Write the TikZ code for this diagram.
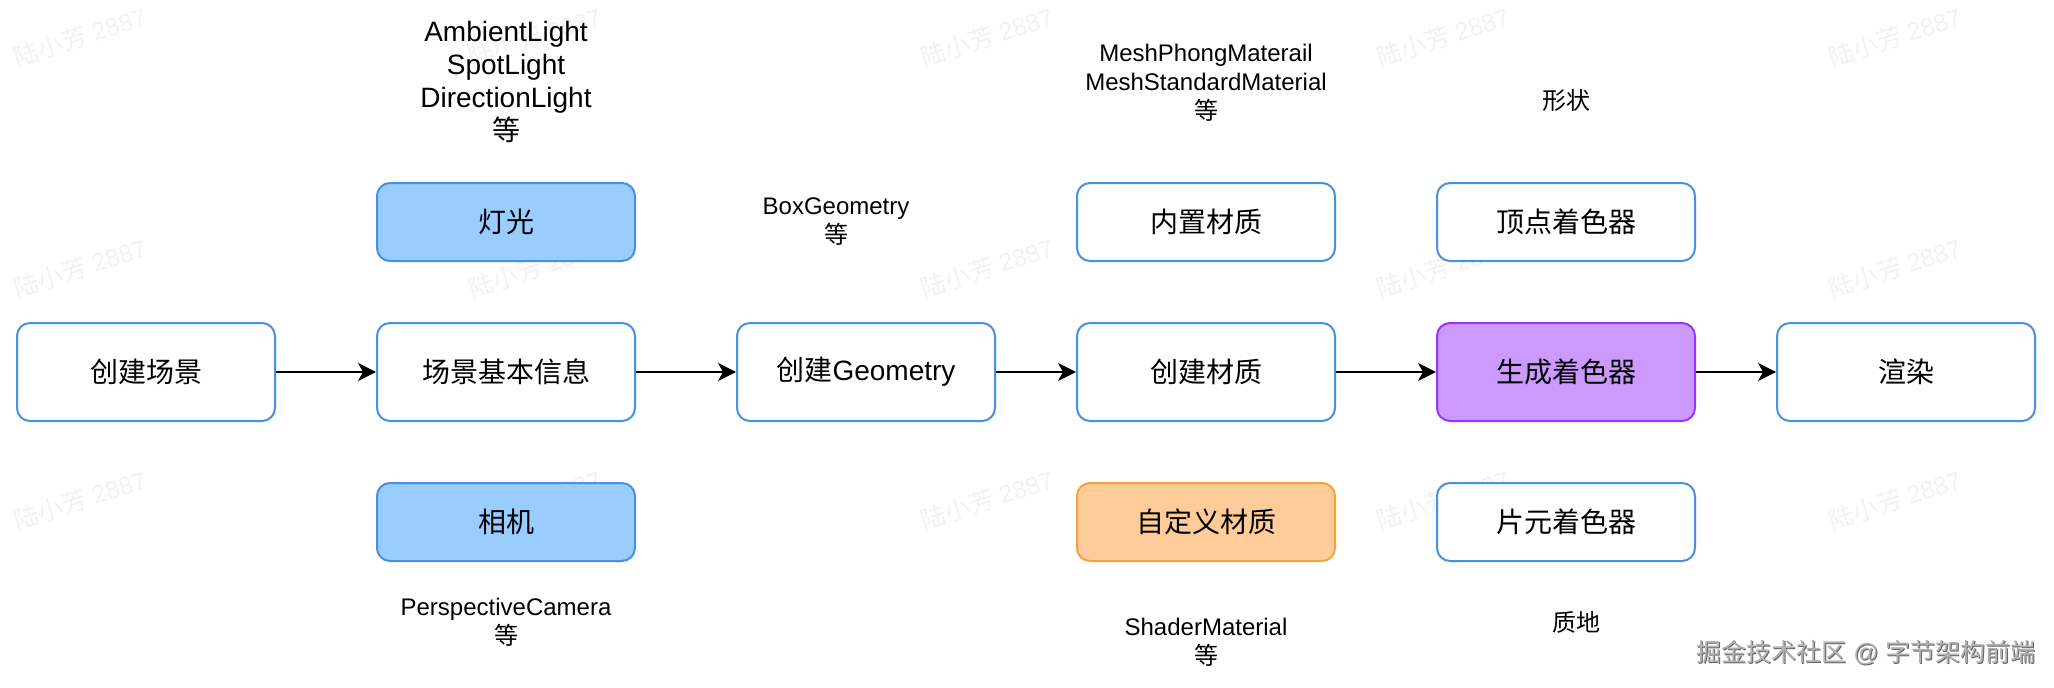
\documentclass[tikz,border=0pt]{standalone}
\usepackage{fontspec}
\setmainfont{Liberation Sans}
\newfontfamily\cjk{Noto Sans CJK SC}
\newcommand{\zh}[1]{{\cjk #1}}
\usetikzlibrary{arrows.meta}
\definecolor{bstroke}{HTML}{4A90E2}
\definecolor{bfill}{HTML}{99CCFF}
\definecolor{pfill}{HTML}{CC99FF}
\definecolor{pstroke}{HTML}{9933FF}
\definecolor{ofill}{HTML}{FFCC99}
\definecolor{ostroke}{HTML}{F2A33A}
\definecolor{wmark}{HTML}{F2F2F2}
\tikzset{
  box/.style={draw=bstroke, fill=white, line width=2pt, rounded corners=13pt,
    minimum width=258pt, minimum height=98pt, inner sep=0pt,
    font=\fontsize{28}{34}\selectfont},
  sidebox/.style={box, minimum height=78pt},
  bluebox/.style={sidebox, fill=bfill},
  purplebox/.style={box, fill=pfill, draw=pstroke},
  orangebox/.style={sidebox, fill=ofill, draw=ostroke},
  lbl/.style={align=center, inner sep=0pt, font=\fontsize{24}{29}\selectfont},
  biglbl/.style={align=center, inner sep=0pt, font=\fontsize{28}{33}\selectfont},
  wm/.style={text=wmark, rotate=18, inner sep=0pt, font=\fontsize{25}{30}\selectfont},
  arr/.style={-{Stealth[length=18pt,width=18pt,inset=5pt]}, line width=2pt, black},
  foot/.style={inner sep=0pt, font=\fontsize{25}{30}\selectfont}
}
\begin{document}
\begin{tikzpicture}[x=1pt,y=-1pt]
\useasboundingbox (0,0) rectangle (2054,688);
\fill[white] (0,0) rectangle (2054,688);
% watermarks
\foreach \cx/\nm in {80/a,535/b,987/c,1443/d,1895/e}{
  \foreach \cy/\rn in {37/1,268/2,500/3}{
    \node[wm] (w\nm\rn) at (\cx,\cy) {\zh{陆小芳} 2887};
  }
}
% main row
\node[box] (b1) at (146,372) {\zh{创建场景}};
\node[box] (b2) at (506,372) {\zh{场景基本信息}};
\node[box] (b3) at (866,372) {\zh{创建}Geometry};
\node[box] (b4) at (1206,372) {\zh{创建材质}};
\node[purplebox] (b5) at (1566,372) {\zh{生成着色器}};
\node[box] (b6) at (1906,372) {\zh{渲染}};
% side boxes
\node[bluebox] (t2) at (506,222) {\zh{灯光}};
\node[bluebox] (c2) at (506,522) {\zh{相机}};
\node[sidebox] (t4) at (1206,222) {\zh{内置材质}};
\node[orangebox] (c4) at (1206,522) {\zh{自定义材质}};
\node[sidebox] (t5) at (1566,222) {\zh{顶点着色器}};
\node[sidebox] (c5) at (1566,522) {\zh{片元着色器}};
% connectors
\draw[arr] (b1) -- (b2);
\draw[arr] (b2) -- (b3);
\draw[arr] (b3) -- (b4);
\draw[arr] (b4) -- (b5);
\draw[arr] (b5) -- (b6);
% labels
\node[biglbl] (l1) at (506,82) {AmbientLight\\SpotLight\\DirectionLight\\\zh{等}};
\node[lbl] (l2) at (836,222) {BoxGeometry\\\zh{等}};
\node[lbl] (l3) at (1206,83) {MeshPhongMaterail\\MeshStandardMaterial\\\zh{等}};
\node[lbl] (l4) at (1566,100) {\zh{形状}};
\node[lbl] (l5) at (506,622) {PerspectiveCamera\\\zh{等}};
\node[lbl] (l6) at (1206,642) {ShaderMaterial\\\zh{等}};
\node[lbl] (l7) at (1576,622) {\zh{质地}};
% footer watermark
\node[foot, text=black!60] (fs) at (1867,654) {\zh{掘金技术社区} @ \zh{字节架构前端}};
\node[foot, text=black!30] (ft) at (1866,653) {\zh{掘金技术社区} @ \zh{字节架构前端}};
\end{tikzpicture}
\end{document}
